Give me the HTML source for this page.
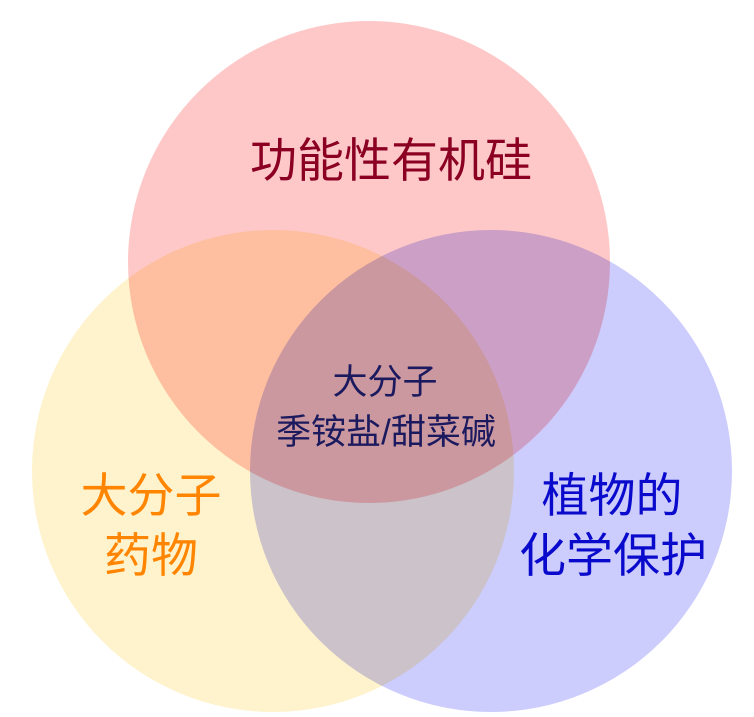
<!DOCTYPE html>
<html><head><meta charset="utf-8"><style>
html,body{margin:0;padding:0;background:#fff;width:754px;height:717px;overflow:hidden}
svg{display:block}
text{font-family:"Liberation Sans","Noto Sans CJK SC",sans-serif;text-anchor:middle}
</style></head><body>
<svg width="754" height="717" viewBox="0 0 754 717">
<g style="isolation:isolate">
<circle cx="369" cy="262" r="241" fill="#FFC8C8" style="mix-blend-mode:multiply"/>
<circle cx="273" cy="471" r="241" fill="#FEF3CC" style="mix-blend-mode:multiply"/>
<circle cx="491" cy="471" r="241" fill="#CCCCFD" style="mix-blend-mode:multiply"/>
</g>
<text x="391" y="177" font-size="47" fill="#8B0022">功能性有机硅</text>
<text x="151" y="512" font-size="47" fill="#FF8400">大分子</text>
<text x="151" y="572" font-size="47" fill="#FF8400">药物</text>
<text x="612" y="512" font-size="47" fill="#0A0ACC">植物的</text>
<text x="613" y="572" font-size="47" fill="#0A0ACC">化学保护</text>
<text x="385" y="394" font-size="35" fill="#1C1A5E">大分子</text>
<text x="386" y="444" font-size="35" fill="#1C1A5E">季铵盐/甜菜碱</text>
</svg>
</body></html>
